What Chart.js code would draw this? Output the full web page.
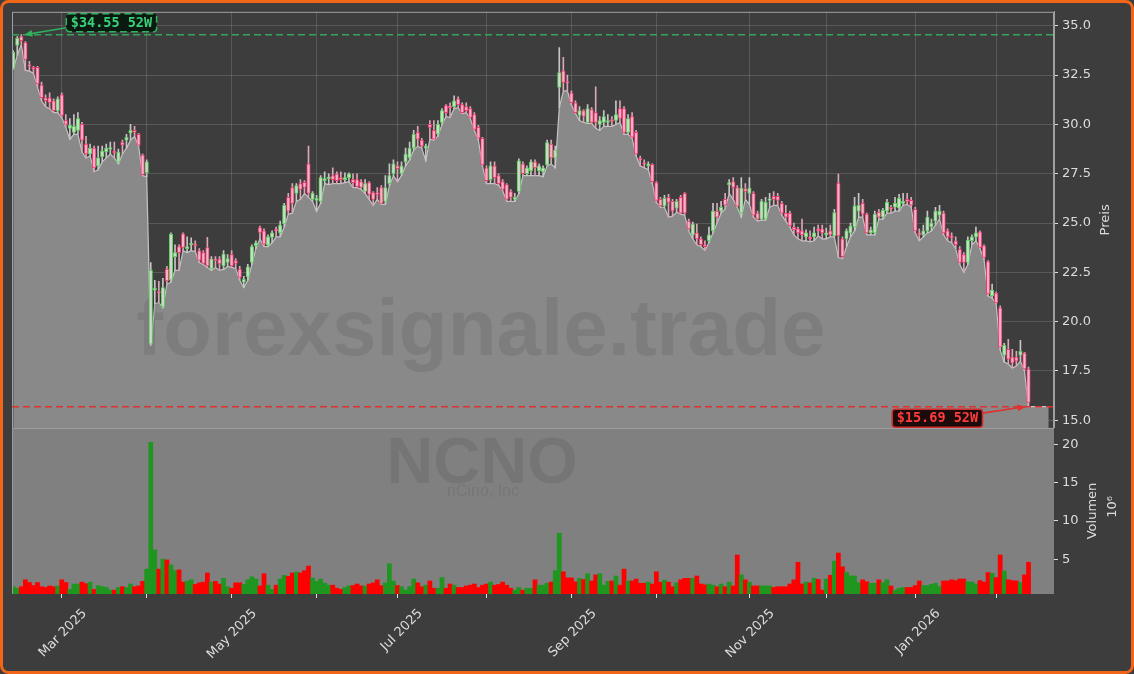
<!DOCTYPE html>
<html>
<head>
<meta charset="utf-8">
<script src="https://cdn.jsdelivr.net/npm/chart.js@4.4.1/dist/chart.umd.min.js"></script>
<style>
  html, body { margin: 0; padding: 0; background: #3d3d3d; }
  canvas { display: block; }
</style>
</head>
<body>
<canvas id="chart" width="1134" height="674"></canvas>
<script>
// NCNO daily candles, index = trading day (Feb 2025 - Feb 2026)
const openP = [
  32.85, 34.0, 34.45, 34.15, 33.0, 32.9, 32.9, 32.0, 31.35, 31.35,
  31.2, 30.7, 31.5, 30.2, 29.8, 29.6, 29.7, 30.0, 29.0, 28.5,
  28.8, 27.9, 28.35, 28.6, 28.75, 28.65, 28.1, 29.1, 29.2, 29.55,
  29.7, 29.5, 28.45, 27.55, 18.86, 21.6, 21.5, 20.75, 22.66, 22.1,
  23.3, 23.8, 24.45, 23.7, 23.9, 23.9, 23.6, 23.5, 23.75, 22.67,
  23.12, 23.17, 22.83, 23.0, 23.4, 23.1, 22.66, 22.0, 22.27, 23.0,
  23.85, 24.77, 24.6, 23.88, 24.27, 24.65, 24.5, 24.95, 26.3, 26.8,
  26.5, 27.0, 27.06, 28.0, 26.2, 26.15, 26.1, 27.15, 27.25, 27.4,
  27.5, 27.3, 27.2, 27.3, 27.2, 27.2, 27.1, 26.6, 27.05, 26.55,
  26.5, 26.8, 26.1, 27.0, 27.5, 27.9, 27.5, 28.1, 28.3, 28.8,
  29.6, 29.2, 28.8, 30.0, 29.7, 29.5, 30.1, 30.95, 30.9, 30.9,
  31.3, 31.0, 30.9, 30.8, 30.5, 29.85, 29.3, 27.8, 27.2, 27.9,
  27.4, 27.1, 26.95, 26.6, 26.2, 26.6, 28.0, 27.5, 27.65, 28.1,
  27.65, 27.6, 27.95, 29.0, 28.3, 31.87, 32.72, 32.15, 31.6, 31.1,
  30.45, 30.7, 30.1, 30.75, 30.6, 30.0, 30.1, 30.1, 30.25, 30.2,
  30.8, 30.8, 29.6, 30.4, 29.6, 28.25, 28.05, 27.9, 27.98, 27.05,
  26.2, 25.87, 26.3, 26.1, 25.75, 26.3, 26.5, 25.1, 24.4, 24.5,
  24.2, 23.9, 24.1, 24.6, 25.6, 25.6, 26.2, 26.93, 27.1, 26.8,
  25.5, 26.75, 26.5, 26.5, 25.5, 25.2, 25.2, 26.15, 26.35, 26.35,
  26.0, 25.5, 25.5, 24.8, 24.7, 24.6, 24.3, 24.3, 24.3, 24.7,
  24.7, 24.4, 24.6, 24.35, 27.02, 24.2, 24.2, 24.5, 24.8, 25.6,
  26.0, 25.45, 24.5, 24.5, 25.55, 25.3, 25.6, 25.8, 25.8, 25.75,
  26.0, 26.2, 26.15, 25.7, 24.5, 24.4, 24.6, 24.8, 25.1, 25.4,
  25.5, 24.6, 24.35, 24.1, 23.67, 23.4, 23.0, 24.1, 24.3, 24.55,
  23.85, 23.05, 21.3, 21.45, 20.7, 18.3, 18.6, 18.2, 18.2, 18.3,
  18.4, 17.6
];
const highP = [
  33.75, 34.45, 34.55, 34.2, 33.2, 32.95, 32.95, 32.15, 31.5, 31.6,
  31.3, 31.4, 31.6, 30.5, 30.3, 30.5, 30.6, 30.1, 29.4, 29.0,
  28.9, 28.9, 28.9, 29.0, 29.1, 29.1, 28.75, 29.2, 29.5, 30.0,
  29.9, 29.55, 28.5, 28.2, 23.0, 22.1, 22.05, 22.2, 22.8, 24.5,
  23.9, 23.9, 24.5, 24.3, 24.25, 24.1, 23.7, 23.6, 24.27, 23.3,
  23.3, 23.3, 23.6, 23.4, 23.6, 23.2, 22.8, 22.3, 22.9, 23.9,
  24.1, 24.85, 24.7, 24.4, 24.6, 24.8, 25.1, 26.0, 26.5, 27.0,
  27.0, 27.2, 27.15, 28.9, 26.6, 26.4, 27.4, 27.6, 27.5, 27.8,
  27.6, 27.6, 27.55, 27.55, 27.5, 27.5, 27.2, 27.2, 27.1, 26.6,
  26.8, 26.9, 27.4, 28.0, 28.2, 28.1, 28.1, 28.8, 29.1, 29.7,
  29.9, 29.3, 29.0, 30.2, 30.2, 30.2, 30.8, 31.0, 31.1, 31.45,
  31.4, 31.1, 31.1, 30.9, 30.6, 29.95, 29.35, 27.9, 28.1, 28.1,
  27.5, 27.2, 27.0, 26.7, 26.5, 28.25, 28.1, 27.9, 28.2, 28.2,
  28.0, 27.9, 29.2, 29.2, 28.9, 33.9, 33.4, 32.5, 31.7, 31.2,
  30.9, 30.75, 31.0, 30.85, 31.9, 30.4, 30.7, 30.5, 30.4, 31.2,
  31.2, 30.9, 30.5, 30.6, 29.7, 28.4, 28.2, 28.1, 28.0, 27.1,
  26.3, 26.4, 26.45, 26.2, 26.2, 26.4, 26.55, 25.2, 25.05, 24.95,
  24.3, 24.1, 24.8, 26.0, 26.0, 26.1, 26.5, 27.2, 27.3, 26.9,
  27.3, 27.0, 27.3, 26.6, 25.6, 26.2, 26.3, 26.5, 26.6, 26.5,
  26.1, 25.9, 25.6, 25.0, 24.8, 25.2, 24.65, 24.6, 24.8, 24.9,
  24.9, 24.75, 24.9, 25.7, 27.48, 24.3, 24.7, 25.0, 26.3, 26.5,
  26.2, 25.5, 24.8, 25.6, 25.7, 25.75, 26.2, 25.9, 26.3, 26.45,
  26.5, 26.5, 26.3, 25.8, 24.7, 24.9, 25.6, 25.2, 25.8, 25.9,
  25.6, 24.7, 24.5, 24.3, 23.8, 23.5, 24.3, 24.4, 24.8, 24.6,
  23.9, 23.1, 21.9, 21.5, 20.8, 18.9, 19.1, 18.6, 18.5, 19.05,
  18.45, 17.7
];
const lowP = [
  32.8, 33.5, 34.05, 32.75, 32.7, 32.6, 31.9, 31.2, 30.9, 30.8,
  30.6, 30.6, 30.35, 29.85, 29.25, 29.5, 29.5, 28.6, 28.3, 28.4,
  27.6, 27.7, 28.1, 28.3, 28.5, 28.3, 28.0, 28.5, 28.8, 29.2,
  29.4, 28.9, 27.4, 27.35, 18.8, 20.9, 20.97, 20.7, 21.9, 22.0,
  22.6, 22.6, 23.6, 23.5, 23.6, 23.55, 23.0, 22.9, 22.75, 22.6,
  22.75, 22.6, 22.65, 22.8, 22.75, 22.7, 22.1, 21.73, 22.1, 22.9,
  23.7, 24.2, 23.8, 23.8, 24.0, 24.3, 24.3, 24.8, 25.45, 25.5,
  26.1, 26.2, 26.5, 26.3, 26.1, 25.6, 26.0, 27.0, 26.95, 27.0,
  27.0, 27.0, 27.05, 27.1, 26.8, 26.8, 26.7, 26.5, 26.2, 25.9,
  26.2, 25.95, 25.95, 26.9, 27.4, 27.1, 27.4, 27.9, 28.2, 28.7,
  28.9, 28.8, 28.15, 29.25, 29.2, 29.4, 30.0, 30.4, 30.35, 30.8,
  30.85, 30.55, 30.6, 30.3, 29.7, 29.2, 27.9, 27.0, 27.0, 27.0,
  26.9, 26.65, 26.1, 26.1, 26.1, 26.5, 27.4, 27.4, 27.4, 27.4,
  27.4, 27.35, 27.9, 28.0, 27.8, 30.85, 31.7, 31.7, 31.0, 30.55,
  30.2, 30.1, 30.05, 30.05, 29.8, 29.7, 29.9, 29.9, 29.9, 30.0,
  30.1, 29.5, 29.5, 29.3, 28.4, 27.9, 27.8, 27.7, 27.0, 26.05,
  25.8, 25.8, 25.3, 25.35, 25.55, 25.45, 25.4, 24.6, 24.2, 23.9,
  23.8, 23.62, 24.0, 24.5, 25.0, 25.5, 25.7, 26.5, 26.2, 25.8,
  25.3, 26.2, 25.95, 25.3, 25.1, 25.15, 25.15, 25.8, 25.9, 25.9,
  25.4, 25.1, 24.8, 24.4, 24.2, 24.1, 24.1, 24.05, 24.1, 24.35,
  24.2, 24.2, 24.3, 24.3, 23.25, 23.2, 23.8, 24.3, 24.6, 25.3,
  25.3, 24.4, 24.4, 24.4, 25.2, 25.2, 25.5, 25.5, 25.6, 25.6,
  25.9, 25.95, 25.8, 24.5, 24.1, 24.3, 24.5, 24.6, 24.9, 25.2,
  24.4, 24.1, 24.0, 23.7, 22.9, 22.5, 22.9, 23.9, 24.1, 23.7,
  23.15, 21.3, 21.2, 20.9, 18.55, 17.95, 17.85, 17.65, 17.75, 18.0,
  17.5, 15.69
];
const closeP = [
  33.65, 34.37, 34.25, 33.3, 32.95, 32.8, 32.05, 31.35, 31.2, 31.1,
  30.7, 31.3, 30.45, 30.0, 29.95, 29.9, 30.3, 29.2, 28.5, 28.8,
  27.8, 28.3, 28.65, 28.8, 28.8, 28.55, 28.6, 28.95, 29.35, 29.7,
  29.6, 28.95, 27.45, 28.1, 22.6, 21.7, 21.45, 21.73, 22.07, 24.43,
  23.5, 23.5, 23.76, 23.8, 23.95, 23.85, 23.1, 22.95, 22.83, 23.17,
  23.1, 22.93, 23.42, 23.2, 22.83, 22.95, 22.24, 22.15, 22.78, 23.8,
  24.0, 24.52, 23.93, 24.3, 24.5, 24.6, 24.9, 25.9, 25.6, 26.0,
  26.9, 26.7, 26.8, 26.5, 26.5, 26.25, 27.3, 27.25, 27.3, 27.2,
  27.15, 27.2, 27.3, 27.5, 27.05, 26.85, 26.8, 27.0, 26.45, 26.2,
  26.45, 26.0, 26.8, 27.4, 28.0, 27.75, 27.9, 28.5, 28.8, 29.5,
  29.25, 28.9, 28.9, 29.85, 29.25, 30.0, 30.7, 30.6, 30.85, 31.2,
  31.0, 30.6, 30.7, 30.35, 29.75, 29.3, 27.95, 27.15, 27.9, 27.3,
  27.0, 26.7, 26.2, 26.3, 26.3, 28.15, 27.5, 27.8, 28.1, 27.8,
  27.9, 27.8, 29.08, 28.3, 28.7, 32.63, 32.13, 32.1, 31.1, 30.6,
  30.7, 30.4, 30.8, 30.1, 30.1, 30.2, 30.4, 30.2, 30.15, 30.5,
  30.3, 29.6, 30.3, 29.35, 28.5, 28.2, 27.98, 28.0, 27.1, 26.15,
  25.87, 26.25, 26.05, 25.6, 26.1, 25.5, 25.5, 24.7, 24.95, 24.2,
  23.9, 23.8, 24.4, 25.6, 25.3, 25.8, 25.9, 27.05, 26.8, 25.85,
  26.77, 26.6, 26.77, 25.4, 25.2, 26.1, 26.05, 26.2, 26.2, 26.15,
  25.5, 25.3, 24.85, 24.65, 24.5, 24.4, 24.5, 24.2, 24.5, 24.6,
  24.5, 24.5, 24.4, 25.53, 24.35, 23.3, 24.6, 24.85, 25.87, 25.9,
  25.45, 24.5, 24.65, 25.45, 25.3, 25.65, 26.05, 25.7, 26.0, 26.25,
  26.1, 26.1, 25.9, 24.6, 24.4, 24.6, 25.3, 25.0, 25.6, 25.6,
  24.5, 24.3, 24.25, 23.9, 23.0, 23.0, 24.13, 24.3, 24.5, 23.76,
  23.25, 21.4, 21.6, 20.95, 18.7, 18.8, 18.1, 17.9, 18.0, 18.5,
  17.6, 15.9
];
// volume in millions
const volume = [
  1.4, 1.2, 1.4, 2.3, 1.95, 1.55, 1.95, 1.4, 1.3, 1.5,
  1.4, 1.5, 2.3, 1.95, 1.05, 1.75, 1.75, 2.0, 1.8, 2.0,
  1.05, 1.55, 1.4, 1.3, 0.95, 0.95, 1.3, 1.4, 1.3, 1.75,
  1.4, 1.5, 2.1, 3.7, 20.3, 6.2, 3.7, 5.0, 4.9, 4.25,
  3.5, 3.6, 2.0, 2.15, 2.3, 1.7, 1.9, 2.0, 3.2, 2.0,
  2.1, 1.75, 2.5, 1.4, 1.2, 1.9, 1.9, 1.7, 2.3, 2.7,
  2.4, 1.5, 3.1, 1.6, 1.05, 1.6, 2.4, 2.9, 2.75, 3.2,
  3.3, 3.2, 3.5, 4.1, 2.55, 2.1, 2.4, 1.85, 1.6, 1.6,
  1.2, 1.05, 1.3, 1.5, 1.55, 1.75, 1.5, 1.5, 1.75, 1.9,
  2.3, 1.55, 1.9, 4.4, 2.15, 1.55, 1.4, 0.95, 1.4, 2.4,
  1.9, 1.4, 1.6, 2.15, 1.2, 1.2, 2.6, 1.2, 1.75, 1.6,
  1.3, 1.3, 1.5, 1.6, 1.75, 1.3, 1.6, 1.75, 2.0, 1.6,
  1.7, 2.0, 1.6, 1.2, 0.95, 1.3, 0.95, 1.2, 1.2, 2.3,
  1.6, 1.6, 1.85, 2.0, 3.5, 8.4, 3.35, 2.55, 2.55, 2.05,
  2.5, 2.35, 3.1, 2.15, 2.95, 3.1, 1.6, 2.1, 2.15, 2.8,
  1.6, 3.7, 2.15, 2.15, 2.4, 1.85, 1.85, 2.0, 1.75, 3.35,
  2.0, 2.25, 2.0, 1.4, 1.9, 2.3, 2.5, 2.5, 2.5, 2.8,
  1.75, 1.65, 1.75, 1.6, 1.4, 1.75, 1.4, 2.0, 1.5, 5.55,
  2.95, 2.3, 2.0, 1.5, 1.5, 1.5, 1.5, 1.5, 1.3, 1.4,
  1.4, 1.4, 1.75, 2.3, 4.6, 1.75, 2.0, 1.9, 2.5, 2.35,
  0.95, 2.4, 2.9, 4.75, 5.8, 4.0, 3.3, 2.8, 2.8, 1.95,
  2.3, 2.05, 1.85, 1.85, 2.3, 1.95, 2.3, 1.5, 0.95, 1.2,
  1.3, 1.3, 1.3, 1.55, 2.15, 1.55, 1.55, 1.7, 1.85, 1.4,
  2.15, 2.15, 2.3, 2.2, 2.4, 2.4, 2.05, 2.0, 1.75, 2.2,
  2.0, 3.25, 3.15, 2.6, 5.55, 3.45, 2.3, 2.2, 2.15, 1.95,
  2.95, 4.6
];

// month ticks (trading-day index of first session) and their labels
const monthTicks = [12, 33, 54, 75, 95, 117, 138, 159, 182, 201, 223, 243];
const monthLabels = ['Mar 2025', '', 'May 2025', '', 'Jul 2025', '', 'Sep 2025', '', 'Nov 2025', '', 'Jan 2026', ''];
const priceTicks = [15, 17.5, 20, 22.5, 25, 27.5, 30, 32.5, 35];
const volumeTicks = [5, 10, 15, 20];

// 52 week extremes
const high52 = 34.55, high52Idx = 2;
const low52 = 15.69, low52Idx = 251;
const fillTailIdx = 256;

const isUp = i => closeP[i] >= openP[i];
const idx = openP.map((_, i) => i);

const lowLine = idx.map(i => ({x: i, y: lowP[i]}));
lowLine.push({x: fillTailIdx, y: lowP[lowP.length - 1]});

const FONT = 'DejaVu Sans';
const TXT = '#dcdcdc';
const GRID = 'rgba(255,255,255,0.14)';

function arrow(ctx, x0, y0, x1, y1, color) {
  const a = Math.atan2(y1 - y0, x1 - x0);
  ctx.strokeStyle = color;
  ctx.fillStyle = color;
  ctx.lineWidth = 1.6;
  ctx.setLineDash([]);
  ctx.beginPath();
  ctx.moveTo(x0, y0);
  ctx.lineTo(x1 - 6 * Math.cos(a), y1 - 6 * Math.sin(a));
  ctx.stroke();
  ctx.beginPath();
  ctx.moveTo(x1, y1);
  ctx.lineTo(x1 - 8 * Math.cos(a) + 3.5 * Math.sin(a), y1 - 8 * Math.sin(a) - 3.5 * Math.cos(a));
  ctx.lineTo(x1 - 8 * Math.cos(a) - 3.5 * Math.sin(a), y1 - 8 * Math.sin(a) + 3.5 * Math.cos(a));
  ctx.closePath();
  ctx.fill();
}

function tag(ctx, text, left, top, border, bg, color) {
  ctx.font = 'bold 13.5px "DejaVu Sans Mono"';
  const w = ctx.measureText(text).width + 9;
  ctx.beginPath();
  ctx.roundRect(left, top, w, 18, 3);
  ctx.fillStyle = bg;
  ctx.fill();
  ctx.lineWidth = 1.5;
  ctx.strokeStyle = border;
  ctx.stroke();
  ctx.fillStyle = color;
  ctx.textAlign = 'left';
  ctx.textBaseline = 'middle';
  ctx.fillText(text, left + 4.5, top + 9.5);
  return w;
}

const decor = {
  id: 'decor',
  beforeDraw(chart) {
    const ctx = chart.ctx;
    ctx.save();
    ctx.fillStyle = '#3d3d3d';
    ctx.fillRect(0, 0, chart.width, chart.height);
    ctx.restore();
  },
  beforeDatasetsDraw(chart) {
    const {ctx, chartArea} = chart;
    const yv = chart.scales.yv;
    ctx.save();
    ctx.fillStyle = '#808080';
    ctx.fillRect(chartArea.left, yv.top, chartArea.right - chartArea.left, yv.bottom - yv.top);
    ctx.restore();
  },
  afterDatasetDraw(chart, args) {
    if (args.index !== 0) return;
    const {ctx, chartArea} = chart;
    const y = chart.scales.y, yv = chart.scales.yv;
    const cx = (chartArea.left + chartArea.right) / 2;
    ctx.save();
    ctx.textAlign = 'center';
    ctx.textBaseline = 'middle';
    ctx.fillStyle = 'rgba(0,0,0,0.085)';
    ctx.font = 'bold 80px "Liberation Sans"';
    ctx.fillText('forexsignale.trade', cx - 52, y.bottom - 95);
    ctx.font = 'bold 65px "Liberation Sans"';
    ctx.fillText('NCNO', cx - 51, yv.top + 37);
    ctx.font = '16px "Liberation Sans"';
    ctx.fillText('nCino, Inc', cx - 50, yv.top + 64);
    ctx.restore();
  },
  afterDatasetsDraw(chart) {
    const {ctx, chartArea} = chart;
    const x = chart.scales.x, y = chart.scales.y, yv = chart.scales.yv;
    ctx.save();
    // panel frames
    ctx.strokeStyle = '#a0a0a0';
    ctx.lineWidth = 1;
    ctx.strokeRect(chartArea.left + 0.5, y.top + 0.5, chartArea.right - chartArea.left - 1, y.bottom - y.top);
    ctx.strokeStyle = '#9a9a9a';
    ctx.beginPath();
    ctx.moveTo(chartArea.left + 0.5, yv.top);
    ctx.lineTo(chartArea.left + 0.5, yv.bottom);
    ctx.stroke();

    // 52W dashed levels
    const hy = y.getPixelForValue(high52), ly = y.getPixelForValue(low52);
    ctx.lineWidth = 1.5;
    ctx.setLineDash([7, 4]);
    ctx.strokeStyle = 'rgba(52,170,92,0.95)';
    ctx.beginPath(); ctx.moveTo(chartArea.left, hy); ctx.lineTo(chartArea.right, hy); ctx.stroke();
    ctx.strokeStyle = 'rgba(225,45,45,0.95)';
    ctx.beginPath(); ctx.moveTo(chartArea.left, ly); ctx.lineTo(chartArea.right, ly); ctx.stroke();

    // tags
    const hx = x.getPixelForValue(high52Idx);
    const hl = hx + 45, ht = hy - 21;
    tag(ctx, '$' + high52.toFixed(2) + ' 52W', hl, ht, '#2eb35f', '#0b1a10', '#3ad07a');
    arrow(ctx, hl, ht + 14, hx + 3, hy, '#2eb35f');

    const lx = x.getPixelForValue(low52Idx);
    ctx.font = 'bold 13.5px "DejaVu Sans Mono"';
    const lw = ctx.measureText('$' + low52.toFixed(2) + ' 52W').width + 9;
    const lr = lx - 46, lt = ly + 2.5;
    tag(ctx, '$' + low52.toFixed(2) + ' 52W', lr - lw, lt, '#d42a2a', '#1c0b0b', '#ff3b3b');
    arrow(ctx, lr, lt + 4, lx - 3, ly, '#e03030');
    ctx.restore();
  },
  afterDraw(chart) {
    const ctx = chart.ctx;
    const y = chart.scales.y, yv = chart.scales.yv;
    ctx.save();
    ctx.fillStyle = TXT;
    ctx.font = '13px "' + FONT + '"';
    ctx.textAlign = 'center';
    ctx.textBaseline = 'middle';
    const title = (t, px, py) => {
      ctx.save(); ctx.translate(px, py); ctx.rotate(-Math.PI / 2); ctx.fillText(t, 0, 0); ctx.restore();
    };
    title('Preis', 1106, (y.top + y.bottom) / 2);
    title('Volumen', 1093, (yv.top + yv.bottom) / 2);
    title('10\u2076', 1113, (yv.top + yv.bottom) / 2 - 4);
    // outer frame
    ctx.strokeStyle = '#f2661a';
    ctx.lineWidth = 3;
    ctx.beginPath();
    ctx.roundRect(1.5, 1.5, chart.width - 3, chart.height - 3, 7);
    ctx.stroke();
    ctx.restore();
  }
};

new Chart(document.getElementById('chart'), {
  data: {
    datasets: [
      {
        type: 'line',
        data: lowLine,
        yAxisID: 'y',
        order: 10,
        fill: 'start',
        backgroundColor: '#898989',
        borderColor: '#c4c4c4',
        borderWidth: 1.2,
        pointRadius: 0,
        tension: 0
      },
      {
        type: 'bar',
        data: idx.map(i => ({x: i, y: [lowP[i], highP[i]]})),
        yAxisID: 'y',
        order: 5,
        grouped: false,
        barThickness: 1,
        backgroundColor: idx.map(i => isUp(i) ? '#c6c6c6' : '#dba6b6')
      },
      {
        type: 'bar',
        data: idx.map(i => ({x: i, y: [openP[i], closeP[i]]})),
        yAxisID: 'y',
        order: 2,
        grouped: false,
        barThickness: 3.5,
        minBarLength: 1.5,
        borderWidth: 1,
        borderSkipped: false,
        borderColor: idx.map(i => isUp(i) ? '#5ccf5c' : '#f23a70'),
        backgroundColor: idx.map(i => isUp(i) ? '#cfd8cf' : '#f2b6c8')
      },
      {
        type: 'bar',
        data: idx.map(i => ({x: i, y: volume[i]})),
        yAxisID: 'yv',
        order: 3,
        grouped: false,
        barThickness: 4.1,
        backgroundColor: idx.map(i => isUp(i) ? '#1f961f' : '#ff0000')
      }
    ]
  },
  options: {
    responsive: false,
    animation: false,
    events: [],
    devicePixelRatio: 1,
    layout: {padding: {left: 12, top: 11, right: 0, bottom: 0}},
    plugins: {legend: {display: false}, tooltip: {enabled: false}},
    scales: {
      x: {
        type: 'linear',
        min: -0.3,
        max: 257.3,
        offset: false,
        afterBuildTicks: s => { s.ticks = monthTicks.map(v => ({value: v})); },
        afterFit: s => { s.height = 80; },
        ticks: {
          autoSkip: false,
          maxRotation: 45,
          minRotation: 45,
          labelOffset: 23,
          padding: 8,
          color: TXT,
          font: {family: FONT, size: 13},
          callback: (v, i) => monthLabels[i]
        },
        grid: {offset: false, color: GRID, tickColor: TXT, tickLength: 4, lineWidth: 1},
        border: {display: false}
      },
      y: {
        position: 'right',
        stack: 'panes',
        stackWeight: 416,
        min: 14.61,
        max: 35.71,
        afterBuildTicks: s => { s.ticks = priceTicks.map(v => ({value: v})); },
        afterFit: s => { s.width = 80; },
        ticks: {
          color: TXT,
          padding: 4,
          font: {family: FONT, size: 13},
          callback: v => v.toFixed(1)
        },
        grid: {color: GRID, tickColor: TXT, tickLength: 4},
        border: {display: true, color: '#a0a0a0'}
      },
      yv: {
        position: 'right',
        stack: 'panes',
        stackWeight: 166,
        min: 0.446,
        max: 22.17,
        afterBuildTicks: s => { s.ticks = volumeTicks.map(v => ({value: v})); },
        afterFit: s => { s.width = 80; },
        ticks: {
          color: TXT,
          padding: 4,
          font: {family: FONT, size: 13},
          callback: v => String(v)
        },
        grid: {drawOnChartArea: false, tickColor: TXT, tickLength: 4},
        border: {display: false}
      }
    }
  },
  plugins: [decor]
});
</script>
</body>
</html>
